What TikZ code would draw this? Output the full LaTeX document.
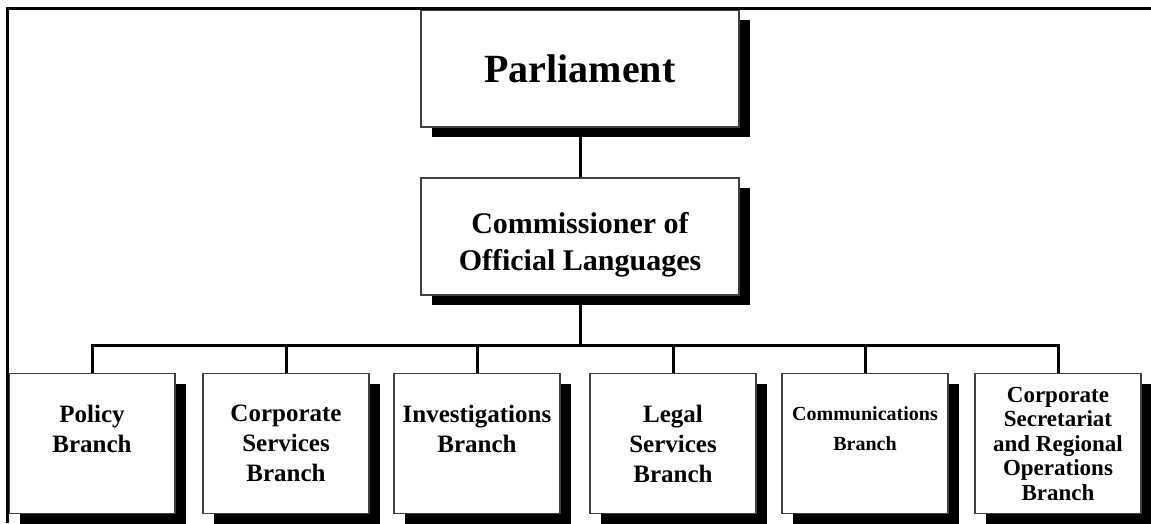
\documentclass[tikz,border=0pt]{standalone}
\usepackage{fontspec}
\setmainfont{Liberation Serif}
\usetikzlibrary{shadows}

\begin{document}
\begin{tikzpicture}[x=1pt, y=-1pt,
		box/.style={draw=black!75, line width=1.2pt, fill=white, align=center,
			drop shadow={shadow xshift=11pt, shadow yshift=-10pt, fill=black, opacity=1}},
		topbox/.style={box, minimum width=318pt, minimum height=117pt},
		branch/.style={box, minimum width=166pt, minimum height=140pt, anchor=north,
			font=\bfseries\fontsize{25}{30}\selectfont},
		link/.style={line width=3pt}]
	\useasboundingbox (0,0) rectangle (1151,523);
	% Hai ô phía trên
	\node[topbox, font=\bfseries\fontsize{40}{48}\selectfont] (parl) at (580,68.5) {Parliament};
	\node[topbox, inner sep=0pt, font=\bfseries\fontsize{30}{37}\selectfont] (comm) at (580,236.5)
		{\parbox[c][117pt][t]{300pt}{\centering\vspace*{34pt}Commissioner of\\Official Languages}};
	% Hàng các ô Branch
	\node[branch] (pol) at (92,373) {Policy\\Branch\\\mbox{}};
	\node[branch] (corp) at (286,373) {Corporate\\Services\\Branch};
	\node[branch] (inv) at (477,373) {Investigations\\Branch\\\mbox{}};
	\node[branch] (leg) at (673,373) {Legal\\Services\\Branch};
	\node[branch, font=\bfseries\fontsize{20}{30}\selectfont] (comms) at (865,373) {Communications\\Branch\\\mbox{}};
	\node[branch, font=\bfseries\fontsize{23}{24.5}\selectfont] (sec) at (1058,373) {Corporate\\Secretariat\\and Regional\\Operations\\Branch};
	% Đường nối
	\coordinate (bus) at (580,345);
	\draw[link] (parl.south) -- (comm.north);
	\draw[link] (comm.south) -- (bus);
	\draw[link] (pol.north) |- (bus) -| (sec.north);
	\foreach \b in {corp,inv,leg,comms}
		\draw[link] (\b.north) -- (\b.north |- bus);
	% Khung ngoài
	\draw[line width=3pt] (1151,8) -- (7,8) -- (7,523);
\end{tikzpicture}
\end{document}
